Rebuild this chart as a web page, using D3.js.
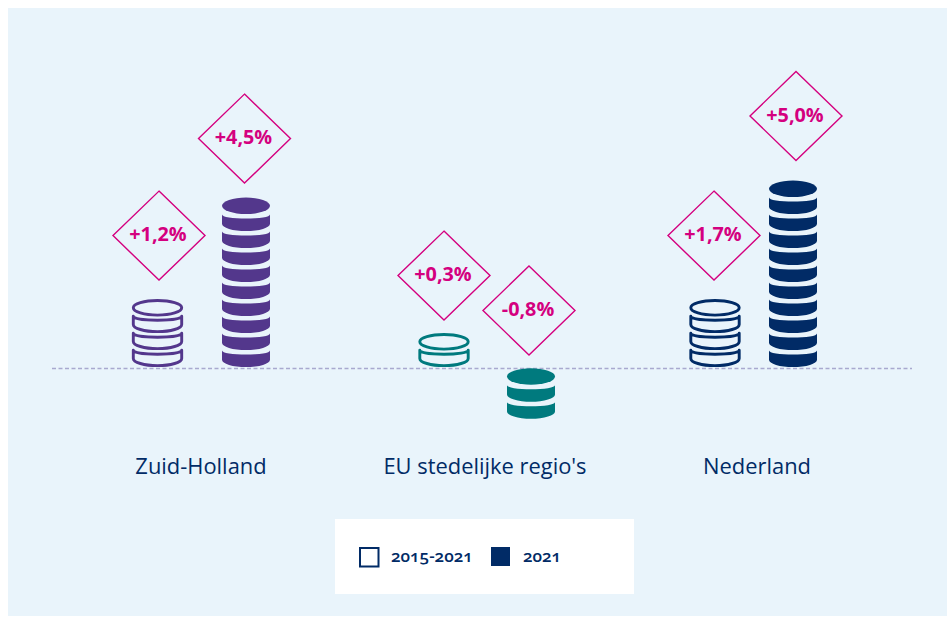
<!DOCTYPE html>
<html><head><meta charset="utf-8">
<script src="https://cdn.jsdelivr.net/npm/d3@7"></script>
<style>html,body{margin:0;padding:0;background:#fff}svg{display:block}</style>
</head><body><svg id="c" width="950" height="617"></svg>
<script>
const categories = ["Zuid-Holland", "EU stedelijke regio's", "Nederland"];
const period = [1.2, 0.3, 1.7];          // 2015-2021, average % growth
const year2021 = [4.5, -0.8, 5.0];       // 2021, % growth
const periodCoins = [3, 1, 3];
const year2021Coins = [9, 2, 10];
const legendLabels = ["2015-2021", "2021"];
const colours = ["#53378c", "#007a7e", "#012b66"];
const labelText = v => (v > 0 ? "+" : "") + v.toFixed(1).replace(".", ",") + "%";

const svg = d3.select("#c");
const navy = "#012b66", magenta = "#d4007f";
const font = "'Open Sans', sans-serif";

svg.append("rect").attr("x", 8).attr("y", 8).attr("width", 939).attr("height", 608).attr("fill", "#e9f4fb");

// scales
const xLabel = d3.scaleOrdinal(categories, [201, 485, 757]);
const xPeriod = d3.scaleOrdinal(categories, [157.5, 444, 715]);
const xYear = d3.scaleOrdinal(categories, [246, 531, 793]);
const dxDiamondPeriod = [1.5, 0, -1], dxDiamondYear = [-1.5, -2, 3];
const liftPeriod = [64, 58, 64], liftYear = [59, 57.5, 64.6];
const y = d3.scaleLinear().domain([0, 10]).range([367, 197]); // one coin = one step
const ry = 8.2;

function band(cx, k, filled) {
  const rx = filled ? 24 : 24.2;
  const x0 = cx - rx, x1 = cx + rx;
  const bottom = y(k) - (filled ? 0 : 1.4);
  const yt = y(k + 1) + (filled ? 0.6 : 0.3);
  const yb = bottom - 7.2;
  return `M${x0},${yt}A${rx},4 0 0 0 ${x1},${yt}L${x1},${yb}A${rx},7.2 0 0 1 ${x0},${yb}Z`;
}

function stack(cx, coins, colour, filled, shift) {
  const g = svg.append("g").attr("transform", `translate(0,${shift})`);
  const style = s => filled ? s.attr("fill", colour)
    : s.attr("fill", "none").attr("stroke", colour).attr("stroke-width", 2.9).attr("stroke-linejoin", "round");
  style(g.selectAll("path").data(d3.range(coins)).join("path").attr("d", k => band(cx, k, filled)));
  style(g.append("ellipse").attr("cx", cx).attr("cy", y(coins) - ry)
    .attr("rx", filled ? 24 : 24.2).attr("ry", filled ? ry : ry - 0.9));
}

function diamond(cx, cy, value) {
  const hw = 46, hh = 44.5;
  svg.append("path").attr("d", `M${cx},${cy - hh}L${cx + hw},${cy}L${cx},${cy + hh}L${cx - hw},${cy}Z`)
    .attr("fill", "none").attr("stroke", magenta).attr("stroke-width", 1.4);
  svg.append("text").attr("x", cx - 1).attr("y", cy + 5.5).attr("text-anchor", "middle")
    .attr("font-family", font).attr("font-weight", 700).attr("font-size", 19.8)
    .attr("fill", magenta).text(labelText(value));
}

// baseline
svg.append("line").attr("x1", 52).attr("x2", 912).attr("y1", y(0) + 1.5).attr("y2", y(0) + 1.5)
  .attr("stroke", "#a9a9cf").attr("stroke-width", 1.4).attr("stroke-dasharray", "4 2.5");

categories.forEach((c, i) => {
  const col = colours[i];
  const top = n => y(n) - 2 * ry;
  stack(xPeriod(c), periodCoins[i], col, false, 0);
  const negative = year2021[i] < 0;
  // a loss hangs below the baseline: its top sits on the line
  stack(xYear(c), year2021Coins[i], col, true, negative ? y(0) + 1.3 - top(year2021Coins[i]) : 0);
  diamond(xPeriod(c) + dxDiamondPeriod[i], top(periodCoins[i]) - liftPeriod[i], period[i]);
  diamond(xYear(c) + dxDiamondYear[i], (negative ? y(0) + 1 : top(year2021Coins[i])) - liftYear[i], year2021[i]);
  svg.append("text").attr("x", xLabel(c)).attr("y", 474).attr("text-anchor", "middle")
    .attr("font-family", font).attr("font-size", 21.9).attr("fill", navy).text(c);
});

// legend
svg.append("rect").attr("x", 335).attr("y", 519).attr("width", 299).attr("height", 75).attr("fill", "#fff");
svg.append("rect").attr("x", 360).attr("y", 548).attr("width", 18.5).attr("height", 18.5)
  .attr("fill", "#fff").attr("stroke", navy).attr("stroke-width", 2);
svg.append("rect").attr("x", 491).attr("y", 547).attr("width", 19).attr("height", 19).attr("fill", navy);
[[391, 0], [523, 1]].forEach(([x, i]) => svg.append("text").attr("x", x).attr("y", 562)
  .attr("font-family", font).attr("font-size", 17).attr("font-weight", 600).attr("fill", navy)
  .style("font-variant-numeric", "oldstyle-nums").text(legendLabels[i]));
</script></body></html>
